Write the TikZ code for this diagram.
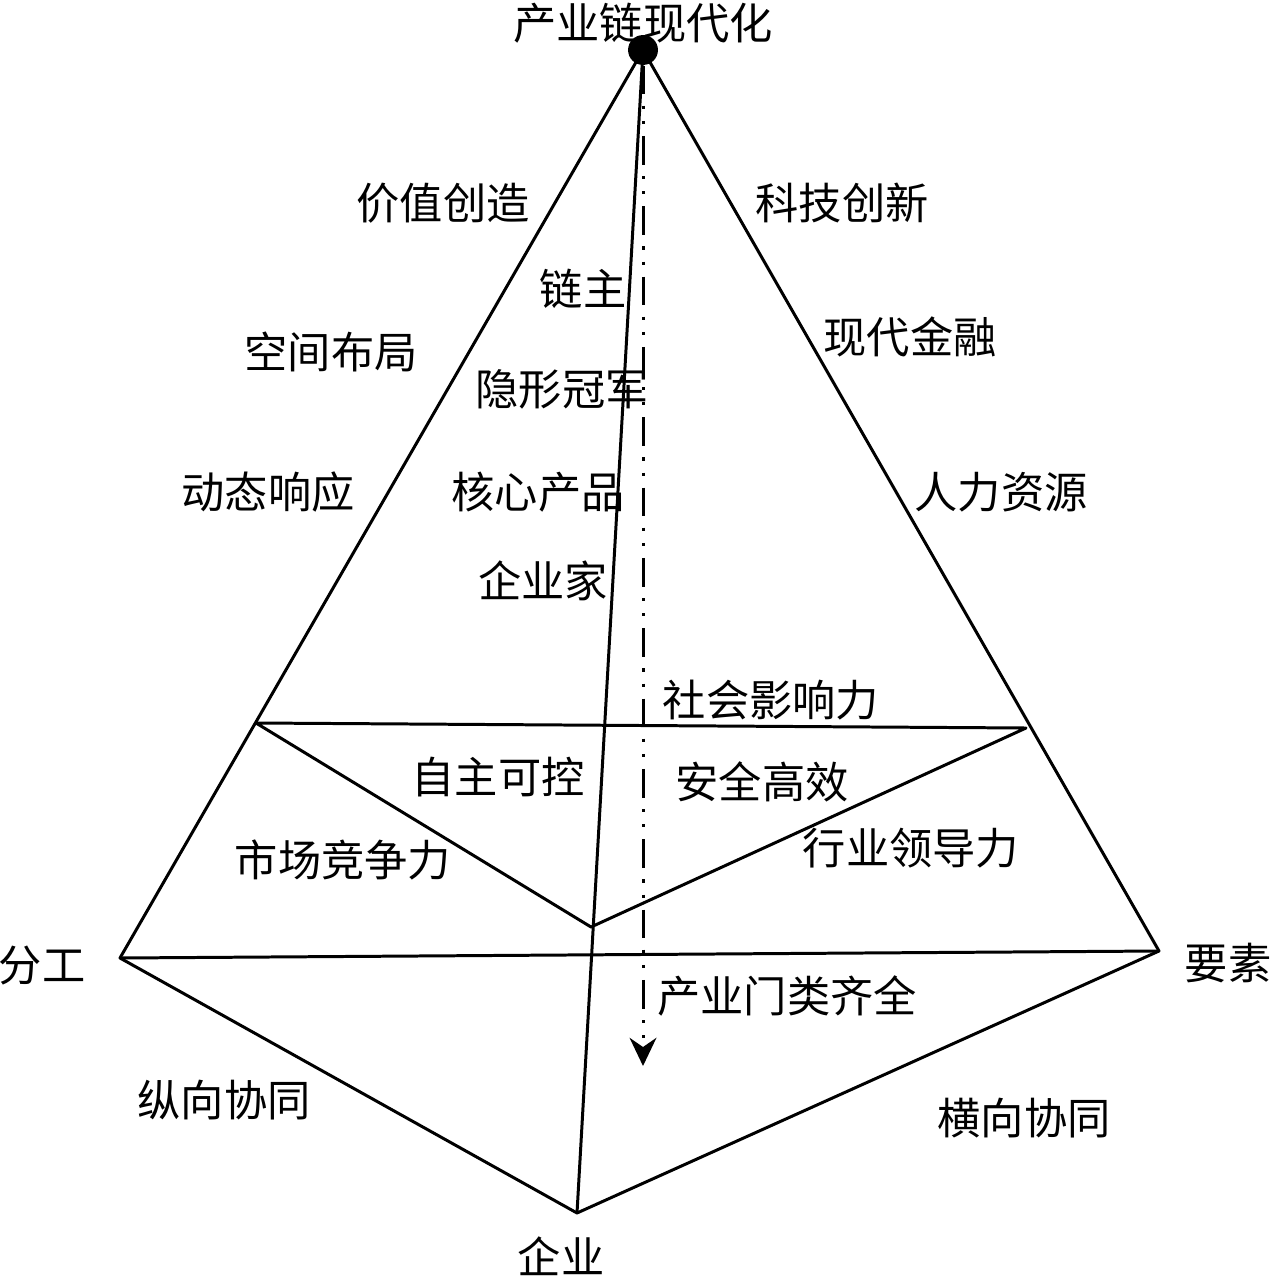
\documentclass[tikz,border=0pt]{standalone}
\usepackage{fontspec}
\newfontfamily\cjk{Noto Sans CJK SC}
\usetikzlibrary{arrows.meta}
\tikzset{
  lbl/.style={font=\cjk\fontsize{12.3}{14}\selectfont, inner sep=0pt},
  edge/.style={line width=0.85pt, line join=round},
  flow/.style={line width=0.85pt, dash pattern=on 8.2pt off 3.2pt on 0.9pt off 3.4pt on 0.9pt off 3.4pt, -{Stealth[length=8pt, width=7.6pt, inset=2.6pt]}}
}
\begin{document}
\begin{tikzpicture}[x=0.01cm, y=-0.01cm]
\useasboundingbox (0,0) rectangle (1271,1276);
% corners of the pyramid
\node[circle, fill=black, inner sep=0pt, minimum size=8.5pt] (apex) at (643,50) {};
\coordinate (fengong) at (120,958);
\coordinate (yaosu) at (1159,951);
\coordinate (qiye) at (577,1213);
\coordinate (midL) at (256,723);
\coordinate (midR) at (1026,728);
\coordinate (midB) at (591,927);
\coordinate (arrowend) at (643,1066);
% outline
\draw[edge] (apex.center) -- (fengong) -- (qiye) -- (yaosu) -- cycle;
\draw[edge] (fengong) -- (yaosu);
\draw[edge] (apex.center) -- (qiye);
\draw[edge] (midL) -- (midR) -- (midB) -- cycle;
\draw[flow] (apex.south) -- (arrowend);
% labels
\node[lbl] (top) at (643,23) {产业链现代化};
\foreach \x/\y/\t/\n in {443/203/价值创造/jiazhi, 842/203/科技创新/keji, 583/289/链主/lianzhu, 910/337/现代金融/jinrong, 331/352/空间布局/kongjian, 562/389/隐形冠军/guanjun, 268/492/动态响应/xiangying, 538/492/核心产品/chanpin, 1001/492/人力资源/renli, 543/581/企业家/qiyejia, 771/700/社会影响力/shehui, 498/777/自主可控/zizhu, 762/782/安全高效/anquan, 911/848/行业领导力/hangye, 343/860/市场竞争力/shichang, 787/996/产业门类齐全/menlei, 224/1100/纵向协同/zongxiang, 1024/1118/横向协同/hengxiang}
  \node[lbl] (\n) at (\x,\y) {\t};
\node[lbl] (fg) at (42,966) {分工};
\node[lbl] (ys) at (1228,963) {要素};
\node[lbl] (qy) at (561,1256) {企业};
\end{tikzpicture}
\end{document}
